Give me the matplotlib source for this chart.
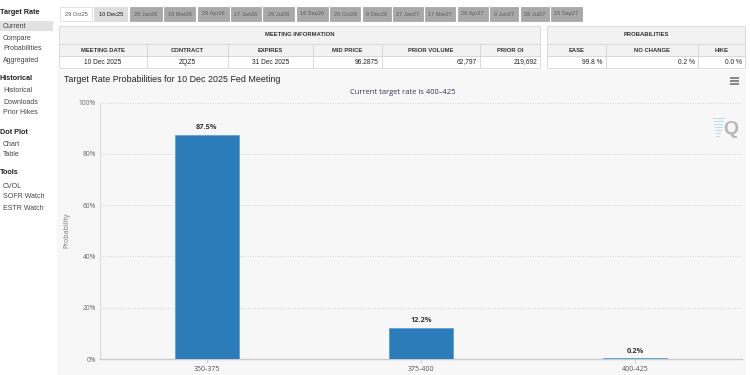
import matplotlib.pyplot as plt
from matplotlib.patches import Rectangle

plt.rcParams["font.family"] = ["Liberation Sans", "DejaVu Sans"]

# =========================
# Data
# =========================
side_menu = [
    ("Target Rate", True), ("Current", False), ("Compare", False),
    ("Probabilities", False), ("Aggregated", False),
    ("Historical", True), ("Historical", False), ("Downloads", False), ("Prior Hikes", False),
    ("Dot Plot", True), ("Chart", False), ("Table", False),
    ("Tools", True), ("CVOL", False), ("SOFR Watch", False), ("ESTR Watch", False),
]
tabs = ["29 Oct25", "10 Dec25", "28 Jan26", "18 Mar26", "29 Apr26", "17 Jun26",
        "29 Jul26", "16 Sep26", "28 Oct26", "9 Dec26", "27 Jan27", "17 Mar27",
        "28 Apr27", "9 Jun27", "28 Jul27", "15 Sep27"]
meeting_cols = ["MEETING DATE", "CONTRACT", "EXPIRES", "MID PRICE", "PRIOR VOLUME", "PRIOR OI"]
meeting_vals = ["10 Dec 2025", "ZQZ5", "31 Dec 2025", "96.2875", "62,797", "219,692"]
prob_cols = ["EASE", "NO CHANGE", "HIKE"]
prob_vals = ["99.8 %", "0.2 %", "0.0 %"]

rate_bins = ["350-375", "375-400", "400-425"]
probs = [87.5, 12.2, 0.2]

# =========================
# Layout (pixels)
# =========================
W, H = 750, 375
side_y = [13, 26, 38, 49, 60, 78, 91, 102, 113, 132, 144, 155, 173, 186, 197, 208]
tab_w = [32, 33, 32, 31, 31, 30, 31, 31, 30, 28, 30, 30, 30, 28, 28, 31]
meet_edges = [59, 147, 228, 313, 382, 480, 540]
prob_edges = [547, 606, 698, 745]
align_meet = ["center", "center", "center", "right", "right", "right"]

fig = plt.figure(figsize=(7.5, 3.75), dpi=100)
bg = fig.add_axes([0, 0, 1, 1])
bg.set_xlim(0, W)
bg.set_ylim(H, 0)
bg.axis("off")

# sidebar
bg.add_patch(Rectangle((0, 21), 53, 10, color="#e2e2e2", lw=0))
for (txt, bold), y in zip(side_menu, side_y):
    bg.text(0 if bold else 3, y, txt, fontsize=5.2 if bold else 5,
            fontweight="bold" if bold else "normal",
            color="#222222" if bold else "#444444", va="center", ha="left")

# tabs
x = 60
for i, (t, w) in enumerate(zip(tabs, tab_w)):
    if i == 0:
        fc, ec, tc = "white", "#dddddd", "#555555"
    elif i == 1:
        fc, ec, tc = "#dcdcdc", "#dcdcdc", "#111111"
    else:
        fc, ec, tc = "#a9a9a9", "#a9a9a9", "#5a5a5a"
    bg.add_patch(Rectangle((x, 7), w, 14, fc=fc, ec=ec, lw=0.6))
    bg.text(x + w / 2, 14, t, fontsize=4.1, color=tc, ha="center", va="center")
    x += w + 2.4


def draw_table(edges, title, cols, vals, aligns):
    x0, x1 = edges[0], edges[-1]
    bc = "#d6d6d6"
    bg.add_patch(Rectangle((x0, 26), x1 - x0, 18, fc="#f2f2f2", ec=bc, lw=0.6))
    bg.text((x0 + x1) / 2, 35, title, fontsize=4.2, fontweight="bold",
            color="#333333", ha="center", va="center")
    for j, (c, v) in enumerate(zip(cols, vals)):
        a, b = edges[j], edges[j + 1]
        bg.add_patch(Rectangle((a, 44), b - a, 12, fc="#f2f2f2", ec=bc, lw=0.6))
        bg.add_patch(Rectangle((a, 56), b - a, 12, fc="white", ec=bc, lw=0.6))
        bg.text((a + b) / 2, 50, c, fontsize=4.2, fontweight="bold",
                color="#333333", ha="center", va="center")
        if aligns[j] == "center":
            bg.text((a + b) / 2, 62, v, fontsize=4.8, color="#222222",
                    ha="center", va="center")
        else:
            bg.text(b - 3, 62, v, fontsize=4.8, color="#222222",
                    ha="right", va="center")


draw_table(meet_edges, "MEETING INFORMATION", meeting_cols, meeting_vals, align_meet)
draw_table(prob_edges, "PROBABILITIES", prob_cols, prob_vals, ["right"] * 3)

# chart panel
bg.add_patch(Rectangle((57, 70), 689, 305, fc="#f7f7f7", lw=0))
bg.text(64, 80, "Target Rate Probabilities for 10 Dec 2025 Fed Meeting",
        fontsize=6.4, color="#222222", ha="left", va="center")
bg.text(403, 92, "Current target rate is 400\u2013425", fontsize=5.4,
        color="#333355", ha="center", va="center", family="Open Sans")
for yy in (78, 81, 84):
    bg.plot([730, 739], [yy, yy], color="#666666", lw=1.1, solid_capstyle="butt")
# logo
for k in range(7):
    yy = 118 + k * 3
    bg.plot([713 + k * 0.5, 724 - k * 0.8], [yy, yy], color="#b5dff2", lw=0.7)
bg.text(731, 129, "Q", fontsize=14, fontweight="bold", color="#b8b8b8",
        ha="center", va="center")

# =========================
# Bar chart
# =========================
left, right, top, bottom = 100, 742, 102.5, 359
ax = fig.add_axes([left / W, 1 - bottom / H, (right - left) / W, (bottom - top) / H])
ax.set_facecolor("none")
pos = range(len(rate_bins))
ax.bar(pos, probs, width=0.3, color="#2b7cb8", edgecolor="#5ea3d6", linewidth=0.6, zorder=3)
for p, v in zip(pos, probs):
    ax.text(p, v + 1.4, f"{v:.1f}%", ha="center", va="bottom", fontsize=5.3,
            fontweight="bold", color="#333333", family="Open Sans")

ax.set_xlim(-0.5, 2.5)
ax.set_ylim(0, 100)
ax.set_yticks([0, 20, 40, 60, 80, 100])
ax.set_yticklabels([f"{t}%" for t in [0, 20, 40, 60, 80, 100]])
ax.set_xticks(list(pos))
ax.set_xticklabels(rate_bins)
ax.tick_params(axis="y", length=0, labelsize=4.8, labelcolor="#666666", pad=3)
ax.tick_params(axis="x", length=3, width=0.6, color="#cccccc", labelsize=5,
               labelcolor="#555555", pad=2)
for lbl in ax.get_xticklabels() + ax.get_yticklabels():
    lbl.set_family("Open Sans")
ax.grid(axis="y", linestyle=(0, (1, 2)), color="#cccccc", linewidth=0.6)
ax.set_axisbelow(True)
ax.set_ylabel("Probability", fontsize=5, color="#777777", family="Open Sans", labelpad=6)
for s in ["top", "right"]:
    ax.spines[s].set_visible(False)
ax.spines["left"].set_color("#dddddd")
ax.spines["left"].set_linewidth(0.8)
ax.spines["bottom"].set_color("#cccccc")
ax.spines["bottom"].set_linewidth(1.0)

fig.savefig("out.png", dpi=100)
